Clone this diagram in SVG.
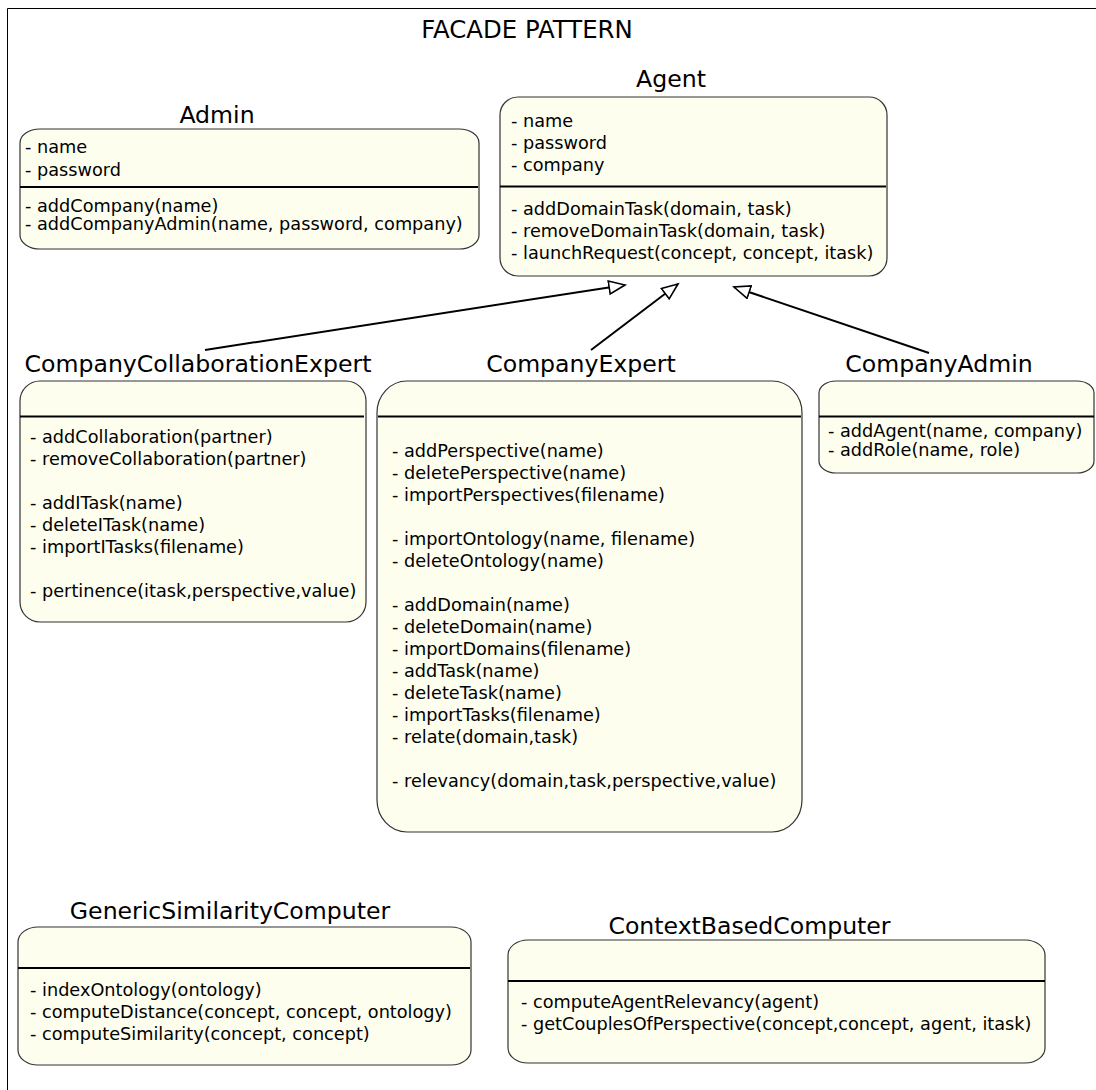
<svg xmlns="http://www.w3.org/2000/svg" width="1096" height="1090" viewBox="0 0 1096 1090">
<style>
.box{fill:#fefeee;stroke:#333;stroke-width:1.2}
.sep{stroke:#000;stroke-width:2}
.title{font-family:"DejaVu Sans",sans-serif;font-size:23.6px;fill:#000;text-anchor:middle}
.t{font-family:"DejaVu Sans",sans-serif;font-size:17.7px;fill:#000}
.edge{stroke:#000;stroke-width:2;fill:none}
</style>
<defs>
<marker id="gen" markerUnits="userSpaceOnUse" markerWidth="20" markerHeight="18" refX="17" refY="7.5" orient="auto">
<path d="M1,1 L17,7.5 L1,14 Z" fill="#fff" stroke="#000" stroke-width="1.6"/>
</marker>
</defs>
<rect width="1096" height="1090" fill="#fff"/>
<g id="frame">
<path d="M7.5,1090 L7.5,8.5 L1096,8.5" fill="none" stroke="#000" stroke-width="1"/>
<text class="title" x="527" y="38" style="font-size:24.4px">FACADE PATTERN</text>
</g>
<g id="connectors">
<line class="edge" x1="205" y1="350" x2="625" y2="285" marker-end="url(#gen)"/>
<line class="edge" x1="591" y1="350" x2="678" y2="284" marker-end="url(#gen)"/>
<line class="edge" x1="929" y1="353" x2="734" y2="287" marker-end="url(#gen)"/>
</g>
<g id="Admin">
<text class="title" x="217" y="123">Admin</text>
<rect class="box" x="20" y="129" width="459" height="120" rx="20" ry="14"/>
<line class="sep" x1="20" y1="187" x2="478" y2="187"/>
<text class="t" x="25" y="153">- name</text>
<text class="t" x="25" y="176">- password</text>
<text class="t" x="25" y="212">- addCompany(name)</text>
<text class="t" x="25" y="230">- addCompanyAdmin(name, password, company)</text>
</g>
<g id="Agent">
<text class="title" x="671" y="87">Agent</text>
<rect class="box" x="500" y="97" width="387" height="179" rx="18" ry="18"/>
<line class="sep" x1="500" y1="186.5" x2="886" y2="186.5"/>
<text class="t" x="511" y="127">- name</text>
<text class="t" x="511" y="149">- password</text>
<text class="t" x="511" y="171">- company</text>
<text class="t" x="511" y="215">- addDomainTask(domain, task)</text>
<text class="t" x="511" y="237">- removeDomainTask(domain, task)</text>
<text class="t" x="511" y="259">- launchRequest(concept, concept, itask)</text>
</g>
<g id="CompanyCollaborationExpert">
<text class="title" x="198" y="372">CompanyCollaborationExpert</text>
<rect class="box" x="20" y="381" width="346" height="241" rx="20" ry="20"/>
<line class="sep" x1="20" y1="416.5" x2="364" y2="416.5"/>
<text class="t" x="30" y="443">- addCollaboration(partner)</text>
<text class="t" x="30" y="465">- removeCollaboration(partner)</text>
<text class="t" x="30" y="509">- addITask(name)</text>
<text class="t" x="30" y="531">- deleteITask(name)</text>
<text class="t" x="30" y="553">- importITasks(filename)</text>
<text class="t" x="30" y="597">- pertinence(itask,perspective,value)</text>
</g>
<g id="CompanyExpert">
<text class="title" x="581" y="372">CompanyExpert</text>
<rect class="box" x="377" y="381" width="425" height="451" rx="30" ry="32"/>
<line class="sep" x1="378" y1="416.5" x2="801" y2="416.5"/>
<text class="t" x="392" y="457">- addPerspective(name)</text>
<text class="t" x="392" y="479">- deletePerspective(name)</text>
<text class="t" x="392" y="501">- importPerspectives(filename)</text>
<text class="t" x="392" y="545">- importOntology(name, filename)</text>
<text class="t" x="392" y="567">- deleteOntology(name)</text>
<text class="t" x="392" y="611">- addDomain(name)</text>
<text class="t" x="392" y="633">- deleteDomain(name)</text>
<text class="t" x="392" y="655">- importDomains(filename)</text>
<text class="t" x="392" y="677">- addTask(name)</text>
<text class="t" x="392" y="699">- deleteTask(name)</text>
<text class="t" x="392" y="721">- importTasks(filename)</text>
<text class="t" x="392" y="743">- relate(domain,task)</text>
<text class="t" x="392" y="787">- relevancy(domain,task,perspective,value)</text>
</g>
<g id="CompanyAdmin">
<text class="title" x="939" y="372">CompanyAdmin</text>
<rect class="box" x="819" y="381" width="275" height="92" rx="17" ry="12"/>
<line class="sep" x1="819" y1="416.5" x2="1094" y2="416.5"/>
<text class="t" x="828" y="437">- addAgent(name, company)</text>
<text class="t" x="828" y="456">- addRole(name, role)</text>
</g>
<g id="GenericSimilarityComputer">
<text class="title" x="230" y="919">GenericSimilarityComputer</text>
<rect class="box" x="18" y="927" width="453" height="138" rx="20" ry="15"/>
<line class="sep" x1="18" y1="968" x2="470" y2="968"/>
<text class="t" x="30" y="996">- indexOntology(ontology)</text>
<text class="t" x="30" y="1018">- computeDistance(concept, concept, ontology)</text>
<text class="t" x="30" y="1040">- computeSimilarity(concept, concept)</text>
</g>
<g id="ContextBasedComputer">
<text class="title" x="749.5" y="934">ContextBasedComputer</text>
<rect class="box" x="508" y="940" width="537" height="123" rx="20" ry="15"/>
<line class="sep" x1="508" y1="981" x2="1045" y2="981"/>
<text class="t" x="521" y="1008">- computeAgentRelevancy(agent)</text>
<text class="t" x="521" y="1030">- getCouplesOfPerspective(concept,concept, agent, itask)</text>
</g>
</svg>
